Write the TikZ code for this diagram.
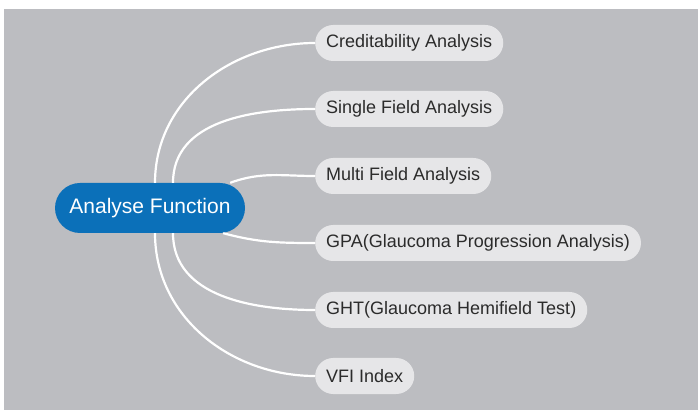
\documentclass[tikz,border=0pt]{standalone}
\usepackage{fontspec}
\setmainfont{Liberation Sans}
\definecolor{bggray}{RGB}{188,189,193}
\definecolor{leafgray}{RGB}{230,230,232}
\definecolor{fnblue}{RGB}{11,112,185}
\definecolor{leaftext}{RGB}{43,43,43}

\begin{document}
\begin{tikzpicture}[
x=1pt, y=1pt,
root/.style = {
	fill=fnblue,
	text=white,
	rounded corners=25pt,
	minimum height=50pt,
	minimum width=190pt,
	font=\fontsize{21}{25}\selectfont
	},
leaf/.style = {
	fill=leafgray,
	text=leaftext,
	rounded corners=18pt,
	minimum height=36pt,
	inner xsep=11pt,
	anchor=west,
	font=\fontsize{18}{22}\selectfont
	},
branch/.style = {
	white,
	line width=2.2pt
	}
]

\useasboundingbox (0,0) rectangle (698,412);
\fill [bggray] (4,2) rectangle (698,403);

% ROOT NODE
\node [root] (func) at (150,204) {Analyse Function};

% LEAF NODES
\node [leaf] (credit) at (315,369) {Creditability Analysis};
\node [leaf] (single) at (315,303) {Single Field Analysis};
\node [leaf] (multi)  at (315,236) {Multi Field Analysis};
\node [leaf] (gpa)    at (315,169) {GPA(Glaucoma Progression Analysis)};
\node [leaf] (ght)    at (315,102) {GHT(Glaucoma Hemifield Test)};
\node [leaf] (vfi)    at (315,36)  {VFI Index};

% PATHS
\draw [branch] ([xshift=5pt]func.north) to [out=90, in=180] (credit.west);
\draw [branch] ([xshift=23pt]func.north) to [out=90, in=180] (single.west);
\draw [branch] ([xshift=-15pt]func.north east) to [out=20, in=180] (multi.west);
\draw [branch] ([xshift=-22pt]func.south east) to [out=-15, in=180] (gpa.west);
\draw [branch] ([xshift=23pt]func.south) to [out=-90, in=180] (ght.west);
\draw [branch] ([xshift=5pt]func.south) to [out=-90, in=180] (vfi.west);
\end{tikzpicture}
\end{document}
